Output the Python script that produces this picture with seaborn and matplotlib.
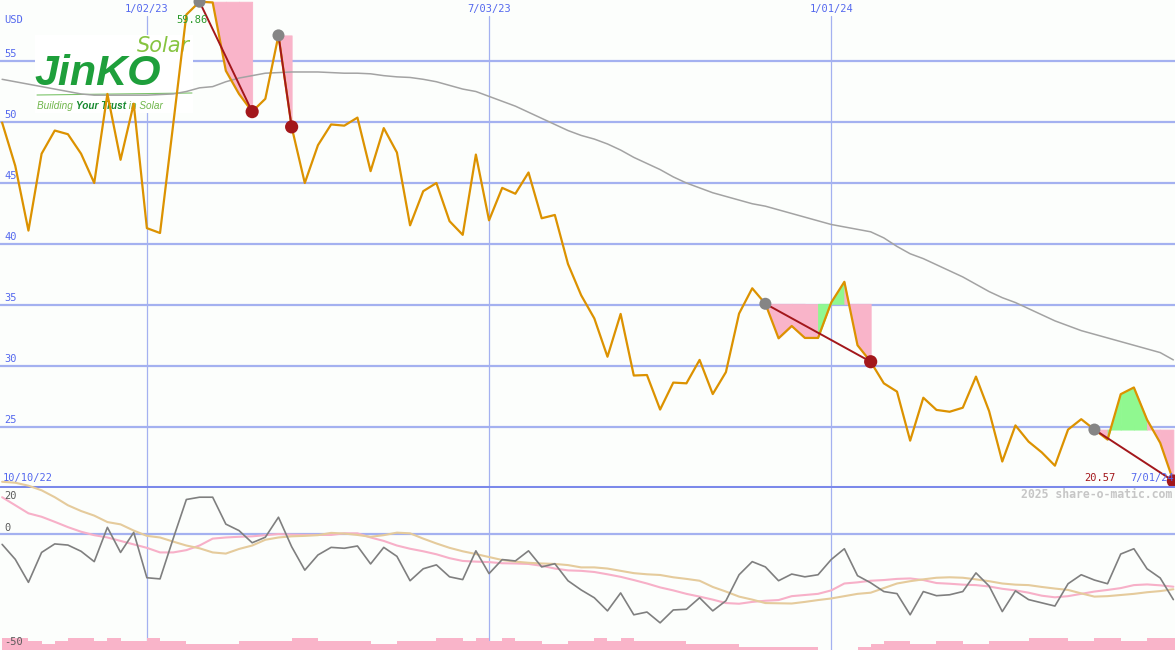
import matplotlib
matplotlib.use("Agg")
import matplotlib.pyplot as plt
import matplotlib.dates as mdates
from matplotlib.patches import Rectangle
import pandas as pd
import seaborn as sns

# weekly closes, JinKO Solar (USD)
weeks = pd.date_range("2022-10-17", periods=90, freq="7D")

close = [49.95, 46.4, 41.1, 47.4, 49.3, 49.0, 47.4, 45.0, 52.3, 46.9,
         51.5, 41.3, 40.9, 49.8, 58.8, 59.86, 59.8, 54.2, 52.3, 50.85,
         51.9, 57.1, 49.6, 45.0, 48.1, 49.8, 49.7, 50.36, 45.97, 49.5,
         47.5, 41.53, 44.33, 45.0, 41.87, 40.75, 47.33, 41.94, 44.6, 44.12,
         45.86, 42.11, 42.38, 38.36, 35.8, 33.9, 30.76, 34.27, 29.22, 29.26,
         26.43, 28.64, 28.58, 30.5, 27.7, 29.5, 34.3, 36.37, 35.1, 32.27,
         33.28, 32.3, 32.3, 35.2, 36.9, 31.7, 30.35, 28.58, 27.9, 23.88,
         27.4, 26.4, 26.25, 26.58, 29.13, 26.3, 22.17, 25.13, 23.8, 22.92,
         21.83, 24.79, 25.64, 24.79, 23.97, 27.69, 28.24, 25.6, 23.7, 20.57]

ma200 = [53.5, 53.3, 53.1, 52.9, 52.7, 52.5, 52.3, 52.2, 52.2, 52.2,
         52.2, 52.2, 52.25, 52.3, 52.5, 52.8, 52.9, 53.3, 53.6, 53.8,
         54.0, 54.05, 54.1, 54.1, 54.1, 54.05, 54.0, 54.0, 53.95, 53.8,
         53.7, 53.65, 53.5, 53.3, 53.0, 52.7, 52.5, 52.1, 51.7, 51.3,
         50.8, 50.3, 49.8, 49.3, 48.9, 48.6, 48.2, 47.7, 47.1, 46.6,
         46.1, 45.5, 45.0, 44.6, 44.2, 43.9, 43.6, 43.3, 43.1, 42.8,
         42.5, 42.2, 41.9, 41.6, 41.4, 41.2, 41.0, 40.5, 39.8, 39.2,
         38.8, 38.3, 37.8, 37.3, 36.7, 36.1, 35.6, 35.2, 34.7, 34.2,
         33.7, 33.3, 32.9, 32.6, 32.3, 32.0, 31.7, 31.4, 31.1, 30.5]

momentum = [-4.5, -11, -21, -8, -4.3, -4.8, -7.5, -12, 2.9, -8,
            0.7, -19, -19.5, -2, 15, 16, 16, 4.3, 1.5, -3.8,
            -1.4, 7.3, -5.5, -15.7, -9.1, -5.8, -6.2, -5.2, -13, -5.8,
            -9.7, -20.3, -15.1, -13.4, -18.6, -19.8, -7.3, -17.2, -11.1, -11.7,
            -7.3, -14.3, -12.9, -20.3, -24.3, -27.7, -33.4, -25.6, -35.1, -33.9,
            -38.6, -33.0, -32.7, -27.7, -33.4, -29.0, -17.7, -12.0, -14.3, -20.3,
            -17.4, -18.6, -17.7, -11.1, -6.4, -18.1, -21.2, -25.0, -25.9, -35.1,
            -25.0, -26.8, -26.4, -25.0, -16.9, -22.6, -33.7, -24.7, -28.5, -29.9,
            -31.3, -21.6, -17.7, -20.0, -21.6, -8.7, -6.4, -15.1, -19.1, -28.5]

mom_fast = [16, 12.5, 9, 7.5, 5.3, 3, 1, -0.5, -1.5, -3,
            -4.5, -6, -8, -8, -7, -5, -2, -1.5, -1.2, -1,
            -0.5, 0, -0.3, -0.4, -0.4, -0.4, 0.3, 0.3, -1.5, -3,
            -5, -6.4, -7.5, -8.8, -10.5, -11.7, -12, -12.2, -12.7, -12.8,
            -13, -13.8, -15, -15.8, -16, -16.5, -17.5, -18.6, -20, -21.5,
            -23.2, -24.5, -26, -27.2, -28.5, -30, -30.3, -29.5, -29, -28.7,
            -27, -26.5, -26, -24.5, -21.5, -21, -20.3, -20, -19.5, -19.3,
            -20, -21.3, -21.6, -22, -22.2, -22.8, -23.8, -24.5, -25.5, -26.8,
            -27.5, -27, -26, -25, -24.3, -23.5, -22.2, -21.9, -22.3, -22.9]

mom_slow = [22.7, 22.3, 21, 19, 16, 12.5, 10, 8, 5.2, 4.2,
            1.5, -0.8, -1.5, -3.3, -5, -6.2, -8, -8.5, -6.5, -5,
            -2.5, -1.5, -1, -0.8, -0.5, 0.5, 0.2, -0.4, -1.2, -0.5,
            0.6, 0.3, -2, -4.1, -6, -7.5, -8.7, -10, -11.3, -12,
            -12.5, -12.8, -13, -13.5, -14.5, -14.5, -15, -16, -17, -17.5,
            -17.8, -18.8, -19.5, -20.3, -23, -25, -27.2, -28.5, -30, -30.1,
            -30.2, -29.5, -28.7, -28, -27, -26, -25.5, -23.5, -21.5, -20.5,
            -19.7, -19, -18.8, -19, -19.7, -20.5, -21.5, -22, -22.2, -23,
            -23.7, -24.3, -25.8, -27.2, -27, -26.5, -26, -25.3, -24.8, -24]

volume = [4, 4, 3, 2, 3, 4, 4, 3, 4, 3,
          3, 4, 3, 3, 2, 2, 2, 2, 3, 3,
          3, 3, 4, 4, 3, 3, 3, 3, 2, 2,
          3, 3, 3, 4, 4, 3, 4, 3, 4, 3,
          3, 2, 2, 3, 3, 4, 3, 4, 3, 3,
          3, 3, 2, 2, 2, 2, 1, 1, 1, 1,
          1, 1, 0, 0, 0, 1, 2, 3, 3, 2,
          2, 3, 3, 2, 2, 3, 3, 3, 4, 4,
          4, 3, 3, 4, 4, 3, 3, 4, 4, 4]

# (start, end) week index of each drawdown marked on the chart
events = [(15, 19), (21, 22), (58, 66), (83, 89)]

grid_levels = [25, 30, 35, 40, 45, 50, 55]
date_marks = ["2023-01-02", "2023-07-03", "2024-01-01"]
date_labels = ["1/02/23", "7/03/23", "1/01/24"]

BG = "#fcfefc"
GRID = "#a4b1f0"
BLUE_TXT = "#5468ee"
ORANGE = "#dc9200"
PINK = "#f9b4c9"
GREEN = "#90f890"
DARKRED = "#a3171b"
MONO = "DejaVu Sans Mono"

sns.set_style("white")
fig = plt.figure(figsize=(11.75, 6.5), dpi=100, facecolor=BG)
ax = fig.add_axes([0, 162 / 650, 1, 488 / 650])
ax2 = fig.add_axes([0, 0, 1, 162 / 650])

df = pd.DataFrame({"week": weeks, "close": close, "ma200": ma200,
                   "momentum": momentum, "fast": mom_fast, "slow": mom_slow})

# ---- main price panel
sns.lineplot(data=df, x="week", y="ma200", ax=ax, color="#a3a3a3", linewidth=1.1, zorder=3)
sns.lineplot(data=df, x="week", y="close", ax=ax, color=ORANGE, linewidth=1.6, zorder=4)

for s, e in events:
    level = close[s]
    for i in range(s, e):
        col = GREEN if close[i + 1] > level else PINK
        ax.fill_between(weeks[i:i + 2], close[i:i + 2], level, facecolor=col,
                        edgecolor=col, lw=0.6, zorder=2.5)
    ax.plot([weeks[s], weeks[e]], [close[s], close[e]], color=DARKRED, lw=1.4, zorder=5)
    sns.scatterplot(x=[weeks[s]], y=[close[s]], ax=ax, color="#858585", s=75,
                    edgecolor="none", zorder=6)
    sns.scatterplot(x=[weeks[e]], y=[close[e]], ax=ax, color=DARKRED, s=90,
                    edgecolor="none", zorder=6)

for v in grid_levels:
    ax.axhline(v, color=GRID, lw=1.6, zorder=1)
    ax.text(0.004, v + 0.55, str(v), transform=ax.get_yaxis_transform(), family=MONO,
            fontsize=7.5, color=BLUE_TXT, va="center", ha="left", zorder=8)
ax.axhline(20.08, color="#7b89ea", lw=2.2, zorder=7, clip_on=False)

for d, lab in zip(date_marks, date_labels):
    ax.axvline(pd.Timestamp(d), ymin=0, ymax=(488 - 16) / 488, color=GRID, lw=0.9, zorder=1)
    ax2.axvline(pd.Timestamp(d), color=GRID, lw=0.9, zorder=1)
    ax.text(mdates.date2num(pd.Timestamp(d)), 1 - 9 / 488, lab, transform=ax.get_xaxis_transform(),
            family=MONO, fontsize=7.5, color=BLUE_TXT, ha="center", va="center")

ax.text(0.004, 1 - 20 / 488, "USD", transform=ax.transAxes, family=MONO, fontsize=7.5,
        color=BLUE_TXT, va="center")
ax.text(0.002, 20.8, "10/10/22", transform=ax.get_yaxis_transform(), family=MONO,
        fontsize=7.5, color=BLUE_TXT, va="center", zorder=8)
ax.text(1130 / 1175, 20.8, "7/01/24", transform=ax.get_yaxis_transform(), family=MONO,
        fontsize=7.5, color=BLUE_TXT, va="center", clip_on=False, zorder=8)
ax.text(1100 / 1175, 20.8, f"{close[-1]:.2f}", transform=ax.get_yaxis_transform(),
        family=MONO, fontsize=7.5, color=DARKRED, va="center", ha="center", zorder=8)
ax.text(192 / 1175, 58.36, f"{max(close):.2f}", transform=ax.get_yaxis_transform(),
        family=MONO, fontsize=7.5, color="#2a9a2a", va="center", ha="center", zorder=8)

# ---- logo
fx = lambda px: px / 1175
fy = lambda py: 1 - py / 650
ax.add_patch(Rectangle((fx(35), fy(113)), fx(193) - fx(35), 78 / 650, transform=fig.transFigure,
                       facecolor="white", edgecolor="none", zorder=1.5))
ax.text(fx(137), fy(46), "Solar", transform=fig.transFigure, fontsize=15, style="italic",
        color="#86c440", va="center", zorder=2)
ax.text(fx(34), fy(74), "JinKO", transform=fig.transFigure, fontsize=31, fontweight="bold",
        style="italic", family="Liberation Sans", color="#1e9f3b", va="center", zorder=2)
ax.plot([fx(37), fx(192)], [fy(95), fy(93)], transform=fig.transFigure, color="#7cc46a",
        lw=0.8, zorder=2)
t1 = ax.text(fx(37), fy(106), "Building ", transform=fig.transFigure, fontsize=7.2,
             style="italic", family="Liberation Sans", color="#6fb64a", va="center", zorder=2)
t2 = ax.annotate("Your Trust", xy=(1, 0), xycoords=t1, va="bottom", fontsize=7.2,
                 style="italic", fontweight="bold", family="Liberation Sans",
                 color="#17892f", zorder=2)
ax.annotate(" in Solar", xy=(1, 0), xycoords=t2, va="bottom", fontsize=7.2, style="italic",
            family="Liberation Sans", color="#6fb64a", zorder=2)

# ---- oscillator panel
sns.lineplot(data=df, x="week", y="fast", ax=ax2, color="#f7b0c8", linewidth=1.5, zorder=3)
sns.lineplot(data=df, x="week", y="slow", ax=ax2, color="#e5cb9c", linewidth=1.5, zorder=3)
ax2.lines[-1].set_clip_on(False)
sns.lineplot(data=df, x="week", y="momentum", ax=ax2, color="#7f7f7f", linewidth=1.2, zorder=4)
ax2.bar(mdates.date2num(weeks), [v * 1.3 for v in volume], width=7, align="edge",
        bottom=-50.4, color=PINK, lw=0, zorder=2)
ax2.axhline(0, color=GRID, lw=1.6, zorder=1)
for val, ypos in [("20", 16.5), ("0", 2.6), ("-50", -47)]:
    ax2.text(0.004, ypos, val, transform=ax2.get_yaxis_transform(), family=MONO,
             fontsize=7.5, color="#5a5a5a", va="center", zorder=8)
ax2.text(0.998, 17, "2025 share-o-matic.com", transform=ax2.get_yaxis_transform(),
         family=MONO, fontsize=8.3, fontweight="bold", color="#c6c6c6", ha="right",
         va="center", zorder=8)

x0, x1 = pd.Timestamp("2022-10-15 21:00"), pd.Timestamp("2024-07-01 21:00")
for a, lim in ((ax, (20, 60)), (ax2, (-50.4, 20))):
    a.set_xlim(x0, x1)
    a.set_ylim(*lim)
    a.set_facecolor(BG)
    a.set(xlabel="", ylabel="", xticks=[], yticks=[])
    for sp in a.spines.values():
        sp.set_visible(False)

fig.savefig("out.png", dpi=100, facecolor=BG)
